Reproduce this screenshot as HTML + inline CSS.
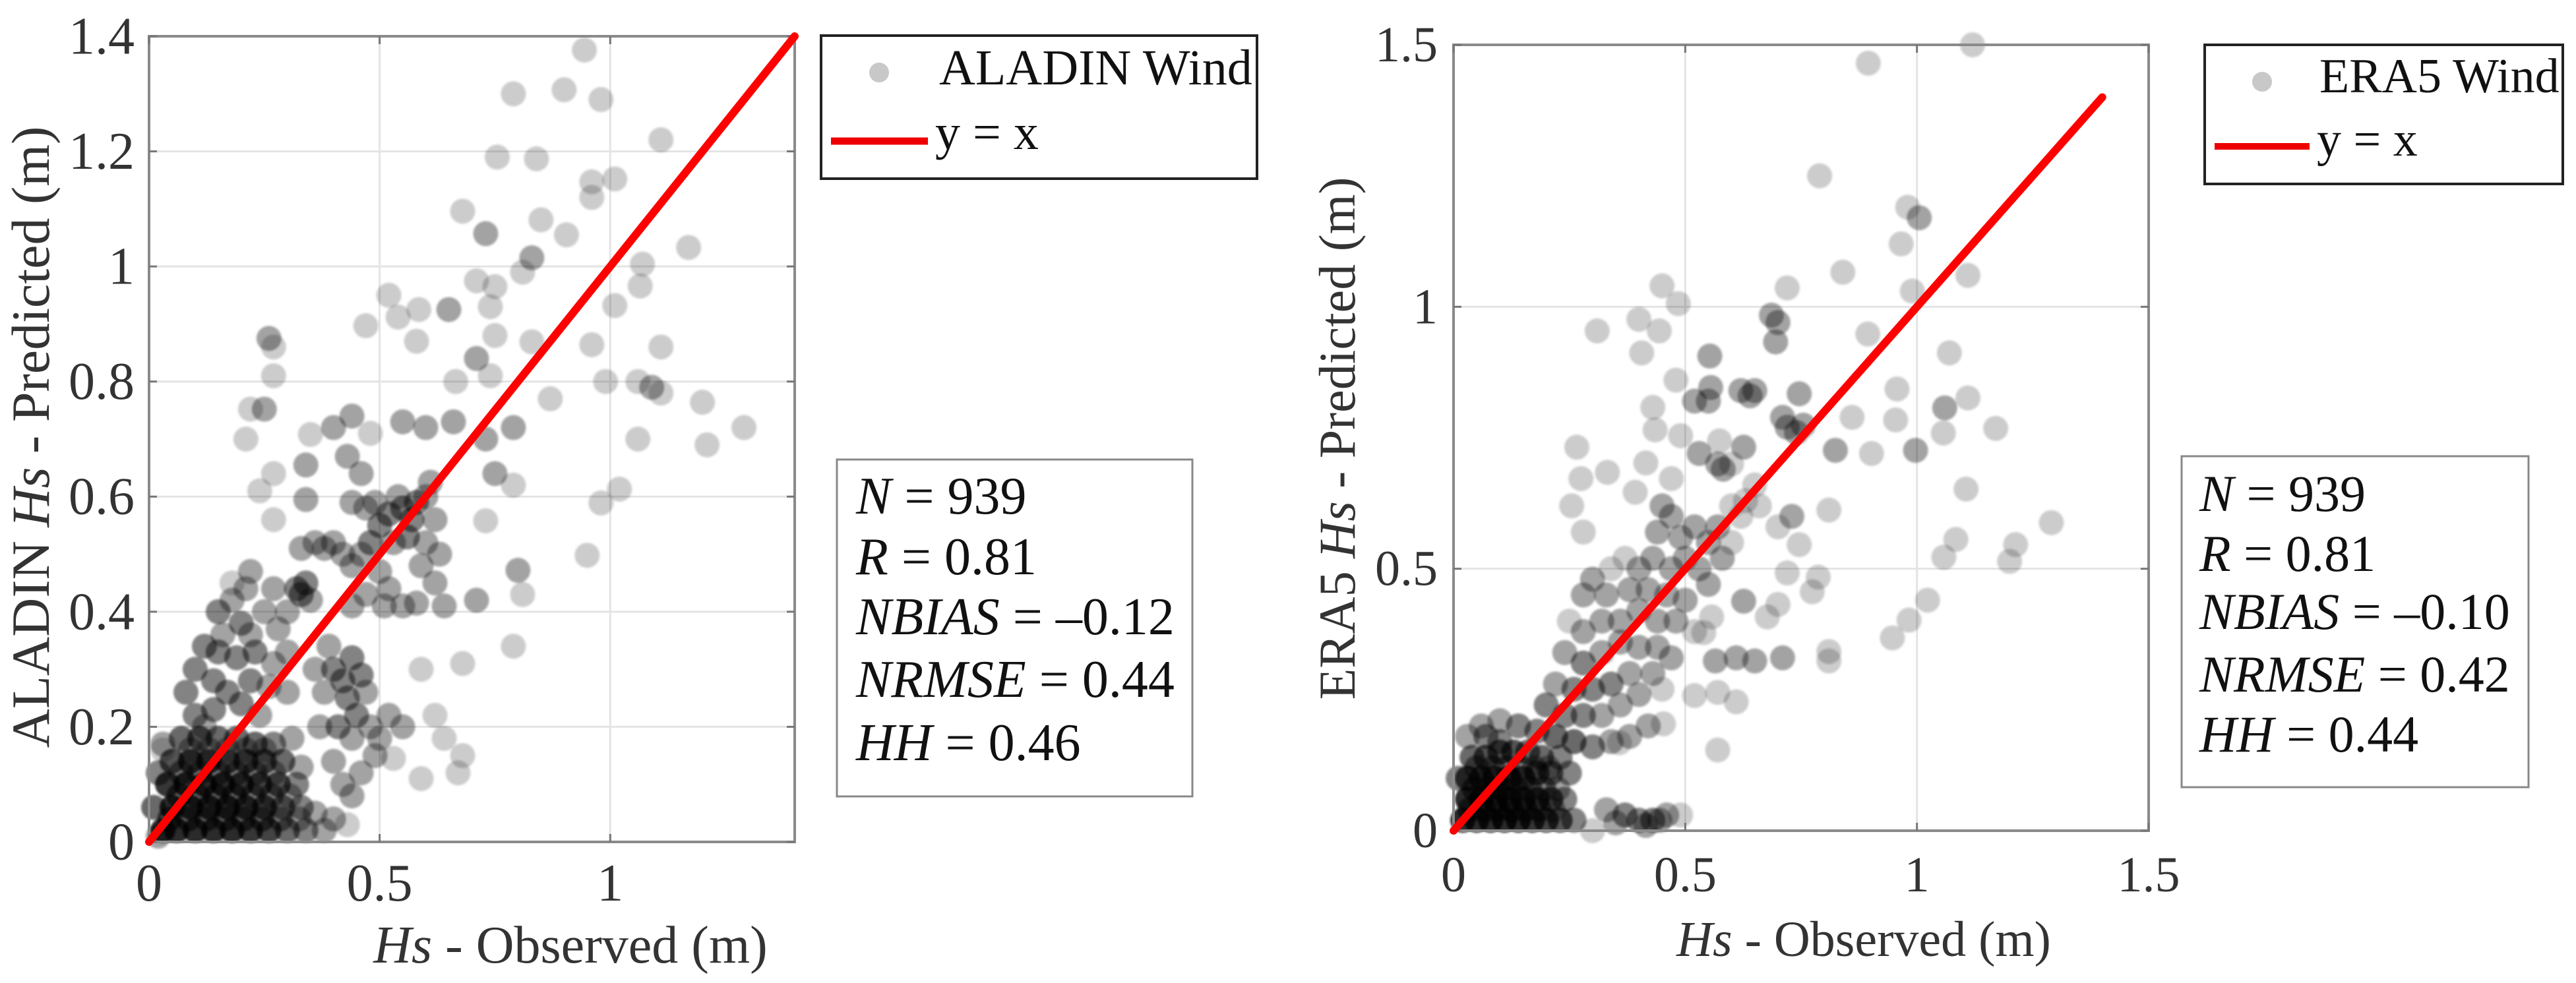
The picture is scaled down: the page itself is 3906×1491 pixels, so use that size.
<!DOCTYPE html>
<html><head><meta charset="utf-8"><style>
html,body{margin:0;padding:0;background:#fff;}
svg{display:block;}
svg text{font-family:"Liberation Serif","DejaVu Serif","Noto Serif CJK SC",serif;}
</style></head><body>
<svg id="fig" width="3906" height="1491" viewBox="0 0 3906 1491" xmlns="http://www.w3.org/2000/svg" style="font-family:'Liberation Serif','DejaVu Serif',serif">
<defs><filter id="soft" x="-5%" y="-5%" width="110%" height="110%"><feGaussianBlur stdDeviation="1.6"/></filter></defs>
<rect x="0" y="0" width="3906" height="1491" fill="#fff"/>
<g id="left"></g>
<g id="right"></g>
</svg>
<script>
// ---------- ALADIN data (observed, predicted, overlap count) ----------
const aladinObs = [0.944,0.79,0.90,0.98,1.11,0.755,0.84,0.96,1.01,0.96,0.68,0.73,0.85,0.905,1.17,0.83,1.07,0.71,0.75,0.81,1.065,0.52,0.585,0.65,0.54,0.47,0.74,1.01,0.26,0.27,0.58,0.75,0.83,0.96,1.11,0.71,0.27,0.665,0.74,0.99,1.06,1.09,1.11,0.87,1.20,0.22,0.25,0.21,0.35,0.40,0.44,0.48,0.55,0.60,0.66,0.79,0.73,1.29,1.21,1.06,0.27,0.34,0.43,0.46,0.75,0.79,1.02,0.98,0.24,0.34,0.44,0.27,0.61,0.73,0.95,0.80,0.81,0.79,0.68,0.59,0.71,0.62,0.58,0.64,0.18,0.22,0.64,0.68,0.67,0.59,0.53,0.62,0.43,0.03,
0.52,0.55,0.57,0.50,0.48,0.53,0.56,0.46,0.42,0.40,0.38,0.36,0.33,0.44,0.50,0.58,0.60,0.62,0.60,0.63,0.49,0.47,0.54,0.59,0.52,0.47,0.44,0.51,0.55,0.32,0.34,0.33,0.35,
0.15,0.18,0.20,0.22,0.25,0.28,0.12,0.15,0.19,0.23,0.27,0.30,0.10,0.14,0.17,0.22,0.26,0.30,0.08,0.10,0.14,0.20,0.24,0.16,0.21,0.27,0.30,
0.40,0.42,0.44,0.46,0.43,0.45,0.41,0.47,0.38,0.39,0.36,0.44,0.48,0.50,0.52,0.55,0.49,0.46,0.42,0.44,0.40,0.37,
0.03,0.06,0.10,0.14,0.18,0.22,0.26,0.30,0.34,0.38,0.05,0.09,0.13,0.17,0.21,0.25,0.29,0.33,0.04,0.08,0.12,0.16,0.20,0.24,0.28,0.32,0.05,0.09,0.13,0.17,0.21,0.25,0.29,0.33,0.07,0.11,0.15,0.19,0.23,0.27,0.31,0.01,0.02,0.03,
0.045,0.085,0.125,0.165,0.205,0.245,0.285,0.325,0.065,0.105,0.145,0.185,0.225,0.265,0.305,0.07,0.11,0.15,0.19,0.23,0.27,0.09,0.13,0.17,0.21,0.25,0.36,0.40,0.12,0.02];
const aladinPred = [1.376,1.30,1.307,1.29,1.22,1.19,1.187,1.147,1.152,1.12,1.096,1.057,1.081,1.055,1.033,1.015,1.004,0.975,0.965,0.99,0.966,0.95,0.925,0.925,0.912,0.897,0.93,0.932,0.875,0.86,0.87,0.88,0.869,0.864,0.86,0.84,0.81,0.80,0.81,0.80,0.80,0.79,0.78,0.77,0.764,0.752,0.752,0.70,0.708,0.72,0.74,0.71,0.73,0.72,0.73,0.72,0.70,0.72,0.69,0.70,0.64,0.655,0.67,0.64,0.64,0.62,0.613,0.589,0.61,0.595,0.59,0.56,0.625,0.558,0.498,0.472,0.43,0.34,0.31,0.30,0.42,0.45,0.415,0.41,0.45,0.47,0.18,0.15,0.12,0.11,0.145,0.22,0.03,0.16,
0.57,0.58,0.56,0.55,0.52,0.52,0.53,0.50,0.50,0.52,0.51,0.52,0.51,0.48,0.47,0.59,0.60,0.56,0.52,0.50,0.59,0.58,0.60,0.48,0.44,0.43,0.41,0.41,0.41,0.44,0.45,0.43,0.42,
0.40,0.42,0.38,0.36,0.40,0.37,0.34,0.33,0.32,0.33,0.31,0.33,0.30,0.28,0.26,0.28,0.27,0.26,0.26,0.22,0.23,0.24,0.22,0.36,0.44,0.44,0.40,
0.30,0.28,0.32,0.29,0.25,0.22,0.20,0.26,0.26,0.34,0.30,0.18,0.20,0.18,0.22,0.20,0.15,0.12,0.10,0.08,0.14,0.20,
0.02,0.02,0.02,0.02,0.02,0.02,0.02,0.02,0.02,0.02,0.06,0.06,0.06,0.06,0.06,0.06,0.06,0.06,0.10,0.10,0.10,0.10,0.10,0.10,0.10,0.10,0.14,0.14,0.14,0.14,0.14,0.14,0.14,0.13,0.18,0.18,0.18,0.18,0.17,0.17,0.18,0.06,0.12,0.17,
0.04,0.04,0.04,0.04,0.04,0.04,0.04,0.04,0.08,0.08,0.08,0.08,0.08,0.08,0.08,0.12,0.12,0.12,0.12,0.12,0.12,0.16,0.16,0.16,0.16,0.16,0.05,0.04,0.20,0.01];
const aladinCount = [1,1,1,1,1,1,1,1,1,1,1,2,1,1,1,2,1,1,1,1,1,1,1,2,1,1,1,1,2,1,1,1,1,1,1,2,1,1,1,1,1,2,1,1,1,1,2,1,1,2,2,1,2,2,2,2,2,1,1,1,1,2,2,2,2,1,1,1,1,2,2,1,2,1,1,2,1,1,1,1,2,2,2,2,1,2,1,1,1,1,1,1,1,1,
3,3,3,3,3,2,3,2,2,2,2,2,2,2,2,3,2,2,2,2,2,2,2,2,2,2,2,2,2,3,3,3,2,
3,2,3,2,2,2,3,3,3,3,2,2,3,3,3,3,2,2,3,3,3,3,2,2,2,2,2,
3,3,3,3,3,3,3,2,2,2,2,2,2,2,2,2,2,2,2,2,2,2,
8,8,8,8,8,7,6,4,3,2,8,8,8,8,7,6,4,3,7,8,8,8,7,6,5,3,5,7,7,6,6,5,4,2,4,5,4,4,4,3,2,4,3,2,
4,4,4,4,4,4,3,2,4,4,4,4,3,3,2,3,3,3,3,3,2,2,2,2,2,2,2,2,2,2];

// ---------- ERA5 data ----------
const eraObs = [1.12,0.895,0.79,0.98,1.005,0.966,0.84,1.11,0.72,0.45,0.485,0.99,0.31,0.40,0.444,0.406,0.686,0.70,0.695,0.894,1.07,0.553,0.48,0.555,0.65,0.746,0.957,1.11,1.06,0.43,0.435,0.49,0.71,0.755,0.86,0.954,1.17,1.057,0.266,0.574,0.626,0.824,0.902,0.997,0.415,0.332,0.275,0.47,0.582,0.392,1.106,0.255,0.28,0.81,0.73,0.746,1.29,1.084,1.058,1.213,1.2,0.72,0.787,0.774,1.023,0.70,0.677,0.983,0.947,0.81,0.81,0.71,0.65,0.61,0.565,0.52,0.57,0.61,0.453,0.57,0.358,0.626,0.557,0.54,
0.33,0.37,0.40,0.43,0.46,0.49,0.30,
0.45,0.47,0.44,0.49,0.52,0.55,0.57,0.60,0.62,0.58,0.53,0.50,0.47,0.43,0.40,0.37,0.34,0.30,0.28,0.33,0.38,0.42,0.46,0.50,0.48,0.44,0.40,0.36,0.32,0.28,0.25,0.24,0.28,0.32,0.36,0.40,0.44,0.47,0.43,0.38,0.34,0.30,0.26,0.22,0.20,0.24,0.28,0.32,0.36,0.40,0.45,0.42,0.38,0.34,0.30,0.26,0.22,0.18,0.14,0.10,0.06,0.55,0.52,0.60,0.63,0.65,0.60,0.57,0.53,0.52,0.55,0.62,0.64,0.72,0.74,0.73,0.70,0.66,
0.02,0.05,0.08,0.11,0.14,0.17,0.20,0.23,0.26,0.03,0.06,0.09,0.12,0.15,0.18,0.21,0.24,0.03,0.06,0.09,0.12,0.15,0.18,0.21,0.25,0.04,0.07,0.10,0.13,0.16,0.19,0.23,0.03,0.07,0.10,0.01,
0.035,0.065,0.095,0.125,0.155,0.185,0.215,0.045,0.075,0.105,0.135,0.165,0.195,0.225,0.05,0.085,0.115,0.145,0.175,0.205,0.35,0.415,0.445];
const eraPred = [1.50,1.465,1.25,1.19,1.17,1.12,1.066,1.06,1.036,1.04,1.006,1.03,0.954,0.976,0.954,0.912,0.984,0.97,0.933,0.948,0.912,0.906,0.86,0.846,0.84,0.834,0.843,0.826,0.807,0.808,0.765,0.754,0.789,0.774,0.789,0.784,0.768,0.759,0.732,0.744,0.732,0.726,0.72,0.726,0.702,0.684,0.672,0.672,0.69,0.646,0.652,0.62,0.57,0.612,0.60,0.546,0.588,0.556,0.522,0.546,0.514,0.492,0.484,0.456,0.44,0.432,0.408,0.402,0.368,0.342,0.324,0.33,0.324,0.33,0.324,0.258,0.264,0.246,0.204,0.154,0.168,0.438,0.408,0.378,
0.04,0.03,0.02,0.02,0.03,0.03,0.0,
0.62,0.60,0.57,0.56,0.58,0.55,0.58,0.62,0.60,0.52,0.50,0.52,0.50,0.52,0.50,0.52,0.50,0.48,0.45,0.45,0.46,0.46,0.45,0.44,0.40,0.40,0.42,0.40,0.40,0.38,0.40,0.34,0.32,0.34,0.36,0.35,0.35,0.33,0.30,0.30,0.28,0.27,0.27,0.28,0.24,0.22,0.22,0.22,0.24,0.26,0.27,0.20,0.18,0.17,0.16,0.17,0.18,0.19,0.20,0.21,0.20,0.47,0.38,0.55,0.63,0.66,0.70,0.70,0.72,0.82,0.82,0.84,0.83,0.77,0.76,0.60,0.58,0.62,
0.02,0.02,0.02,0.02,0.02,0.02,0.02,0.02,0.02,0.06,0.06,0.06,0.06,0.06,0.06,0.06,0.06,0.10,0.10,0.10,0.10,0.10,0.11,0.11,0.11,0.14,0.14,0.15,0.15,0.15,0.14,0.14,0.18,0.18,0.17,0.10,
0.04,0.04,0.04,0.04,0.04,0.04,0.04,0.08,0.08,0.08,0.08,0.08,0.08,0.08,0.12,0.12,0.12,0.12,0.12,0.12,0.015,0.01,0.02];
const eraCount = [1,1,1,1,2,1,1,1,1,1,1,1,1,1,1,1,2,2,2,1,1,2,1,2,2,2,1,1,2,1,1,1,2,2,1,1,1,1,1,1,2,2,1,2,1,1,1,1,2,1,1,1,1,1,1,1,1,1,1,1,1,1,1,1,1,1,1,1,1,1,1,2,2,2,2,1,1,1,1,1,1,2,1,1,
2,3,3,3,2,1,1,
2,2,2,2,2,2,2,1,1,2,2,2,2,2,2,1,1,2,2,2,2,2,2,2,2,2,2,2,2,2,1,2,3,2,2,2,2,2,2,2,3,3,3,2,3,3,3,2,2,2,1,2,2,2,3,4,4,3,3,2,2,2,1,1,1,1,1,2,2,2,2,2,2,2,2,1,1,1,
8,8,8,8,8,7,6,5,3,8,8,8,8,7,6,5,3,6,7,7,7,6,5,4,3,4,5,5,5,4,4,3,2,3,3,3,
4,4,4,4,4,3,2,4,4,4,3,3,3,2,3,3,3,3,2,2,2,2,2];

// ---------- axis tick values ----------
const aladinXTicks = [0,0.5,1];
const aladinXTickLabels = ["0","0.5","1"];
const aladinYTicks = [0,0.2,0.4,0.6,0.8,1,1.2,1.4];
const aladinYTickLabels = ["0","0.2","0.4","0.6","0.8","1","1.2","1.4"];
const eraXTicks = [0,0.5,1,1.5];
const eraXTickLabels = ["0","0.5","1","1.5"];
const eraYTicks = [0,0.5,1,1.5];
const eraYTickLabels = ["0","0.5","1","1.5"];
const aladinLine = [0,1.4];
const eraLine = [0,1.4];

const NS = "http://www.w3.org/2000/svg";
function mk(parent, tag, attrs, text){
  const e = document.createElementNS(NS, tag);
  for (const k in attrs) e.setAttribute(k, attrs[k]);
  if (text !== undefined) e.textContent = text;
  parent.appendChild(e);
  return e;
}

function panel(g, cfg){
  const X = v => cfg.x0 + (v - 0) / cfg.xmax * (cfg.x1 - cfg.x0);
  const Y = v => cfg.y0 - (v - 0) / cfg.ymax * (cfg.y0 - cfg.y1);
  cfg.xt.forEach((t,i)=>{
    if (t>0 && t<cfg.xmax){
      const l = mk(g,'line',{x1:X(t),x2:X(t),y1:cfg.y1,y2:cfg.y0,stroke:'#e4e4e4','stroke-width':3});
      
      
    }
  });
  cfg.yt.forEach((t,i)=>{
    if (t>0 && t<cfg.ymax){
      const l = mk(g,'line',{x1:cfg.x0,x2:cfg.x1,y1:Y(t),y2:Y(t),stroke:'#e4e4e4','stroke-width':3});
      
      
    }
  });
  const pg = mk(g,'g',{filter:'url(#soft)'});
  
  
  for (let i=0;i<cfg.ox.length;i++){
    const n = cfg.cnt[i] || 1;
    const op = 1 - Math.pow(0.8, n);
    const c = mk(pg,'circle',{cx:X(cfg.ox[i]),cy:Y(cfg.py[i]),r:19,fill:'#000','fill-opacity':op.toFixed(3)});
    
    
  }
  const box = mk(g,'rect',{x:cfg.x0,y:cfg.y1,width:cfg.x1-cfg.x0,height:cfg.y0-cfg.y1,fill:'none',stroke:'#8a8a8a','stroke-width':4});
  
  
  cfg.xt.forEach((t,i)=>{
    mk(g,'line',{x1:X(t),x2:X(t),y1:cfg.y0,y2:cfg.y0-12,stroke:'#777','stroke-width':3});
    mk(g,'line',{x1:X(t),x2:X(t),y1:cfg.y1,y2:cfg.y1+12,stroke:'#777','stroke-width':3});
    const tx = mk(g,'text',{x:X(t),y:cfg.xlabBase,'text-anchor':'middle','font-size':cfg.fs,fill:'#333'},cfg.xtl[i]);
    
    
  });
  cfg.yt.forEach((t,i)=>{
    mk(g,'line',{x1:cfg.x0,x2:cfg.x0+12,y1:Y(t),y2:Y(t),stroke:'#777','stroke-width':3});
    mk(g,'line',{x1:cfg.x1,x2:cfg.x1-12,y1:Y(t),y2:Y(t),stroke:'#777','stroke-width':3});
    const ty = mk(g,'text',{x:cfg.ylabRight,y:Y(t)+cfg.fs*0.33,'text-anchor':'end','font-size':cfg.fs,fill:'#333'},cfg.ytl[i]);
    
    
  });
  const ln = mk(g,'line',{x1:X(cfg.line[0]),y1:Y(cfg.line[0]),x2:X(cfg.line[1]),y2:Y(cfg.line[1]),stroke:'#f00','stroke-width':12,'stroke-linecap':'round'});
  
  
}

panel(document.getElementById('left'),{
  x0:226,x1:1205,y0:1277,y1:55,xmax:1.4,ymax:1.4,
  xt:aladinXTicks,xtl:aladinXTickLabels,yt:aladinYTicks,ytl:aladinYTickLabels,
  ox:aladinObs,py:aladinPred,cnt:aladinCount,line:aladinLine,
  fs:80,xlabBase:1366,ylabRight:204
});
panel(document.getElementById('right'),{
  x0:2204,x1:3258,y0:1260,y1:68,xmax:1.5,ymax:1.5,
  xt:eraXTicks,xtl:eraXTickLabels,yt:eraYTicks,ytl:eraYTickLabels,
  ox:eraObs,py:eraPred,cnt:eraCount,line:eraLine,
  fs:76,xlabBase:1352,ylabRight:2180
});
</script>
<svg style="position:absolute;left:0;top:0;font-family:'Liberation Serif','DejaVu Serif',serif" width="3906" height="1491" viewBox="0 0 3906 1491" xmlns="http://www.w3.org/2000/svg">
  <text x="865" y="1460" text-anchor="middle" font-size="80" fill="#333"><tspan font-style="italic">Hs</tspan> - Observed (m)</text>
  <text transform="translate(74,663) rotate(-90)" text-anchor="middle" font-size="82" fill="#333">ALADIN <tspan font-style="italic">Hs</tspan> - Predicted (m)</text>
  <text x="2826" y="1450" text-anchor="middle" font-size="76" fill="#333"><tspan font-style="italic">Hs</tspan> - Observed (m)</text>
  <text transform="translate(2054,665) rotate(-90)" text-anchor="middle" font-size="78" fill="#333">ERA5 <tspan font-style="italic">Hs</tspan> - Predicted (m)</text>

  <g>
    <rect x="1245" y="54" width="661" height="217" fill="#fff" stroke="#222" stroke-width="4"/>
    <circle cx="1333" cy="110" r="15" fill="#c8c8c8"/>
    <text x="1424" y="128" font-size="76" fill="#111">ALADIN Wind</text>
    <line x1="1260" y1="214" x2="1407" y2="214" stroke="#e00" stroke-width="11"/>
    <text x="1418" y="226" font-size="76" fill="#111">y = x</text>
  </g>
  <g font-size="80" fill="#111">
    <rect x="1269" y="697" width="539" height="511" fill="#fff" stroke="#888" stroke-width="3"/>
    <text x="1298" y="779"><tspan font-style="italic">N</tspan> = 939</text>
    <text x="1298" y="871"><tspan font-style="italic">R</tspan> = 0.81</text>
    <text x="1298" y="962"><tspan font-style="italic">NBIAS</tspan> = –0.12</text>
    <text x="1298" y="1057"><tspan font-style="italic">NRMSE</tspan> = 0.44</text>
    <text x="1298" y="1153"><tspan font-style="italic">HH</tspan> = 0.46</text>
  </g>

  <g>
    <rect x="3343" y="68" width="543" height="211" fill="#fff" stroke="#222" stroke-width="4"/>
    <circle cx="3430" cy="124" r="15" fill="#c8c8c8"/>
    <text x="3517" y="140" font-size="74" fill="#111">ERA5 Wind</text>
    <line x1="3358" y1="222" x2="3502" y2="222" stroke="#e00" stroke-width="10"/>
    <text x="3513" y="236" font-size="74" fill="#111">y = x</text>
  </g>
  <g font-size="78" fill="#111">
    <rect x="3308" y="692" width="526" height="502" fill="#fff" stroke="#888" stroke-width="3"/>
    <text x="3335" y="775"><tspan font-style="italic">N</tspan> = 939</text>
    <text x="3335" y="866"><tspan font-style="italic">R</tspan> = 0.81</text>
    <text x="3335" y="954"><tspan font-style="italic">NBIAS</tspan> = –0.10</text>
    <text x="3335" y="1049"><tspan font-style="italic">NRMSE</tspan> = 0.42</text>
    <text x="3335" y="1140"><tspan font-style="italic">HH</tspan> = 0.44</text>
  </g>
</svg>
</body></html>
